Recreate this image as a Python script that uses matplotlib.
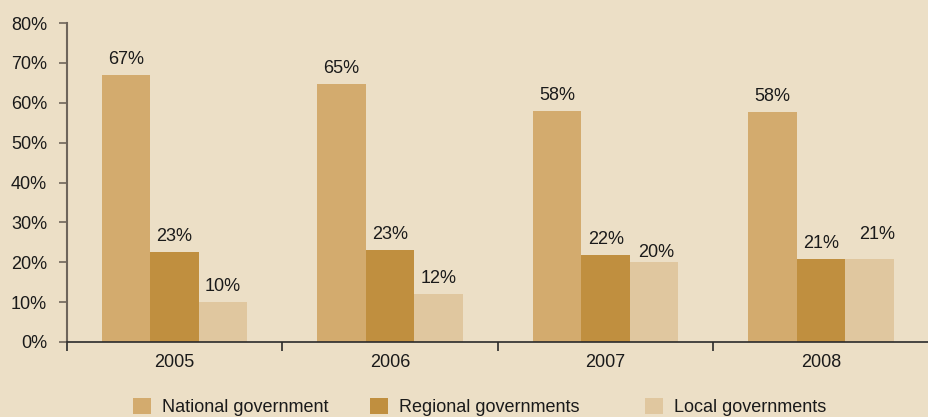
import matplotlib
matplotlib.use("Agg")
import matplotlib.pyplot as plt
import matplotlib.transforms as mtransforms
from matplotlib.patches import Patch
import numpy as np

years = ["2005", "2006", "2007", "2008"]
series = ["National government", "Regional governments", "Local governments"]
national = [66.9, 64.7, 57.9, 57.6]
regional = [22.6, 23.1, 21.8, 20.8]
local = [10.0, 12.0, 20.1, 20.8]

colors = ["#d3ab6e", "#c08f3f", "#e0c79f"]
bg = "#ecdfc6"
text_color = "#1a1a1a"

# per-label nudges in pixels (dx, dy above bar top)
label_nudge = {(2, 2): (2, 5), (2, 3): (7, 20)}

plt.rcParams["font.family"] = ["Liberation Sans", "DejaVu Sans"]
plt.rcParams["font.size"] = 13

fig = plt.figure(figsize=(9.29, 4.17), dpi=100, facecolor=bg)
ax = fig.add_axes([66.7 / 929, 75 / 417, (929 - 66.7) / 929, (394 - 75) / 417])
ax.set_facecolor(bg)

x = np.arange(len(years))
width = 0.225
data = [national, regional, local]
for i, (vals, col) in enumerate(zip(data, colors)):
    pos = x + (i - 1) * width
    ax.bar(pos, vals, width=width, color=col, linewidth=0)
    for j, v in enumerate(vals):
        dx, dy = label_nudge.get((i, j), (0, 11))
        ax.annotate(f"{v:.0f}%", (pos[j], v), xytext=(dx * 0.72, dy * 0.72),
                    textcoords="offset points", ha="center", va="baseline",
                    color=text_color, fontsize=13)

ax.set_xlim(-0.5, -0.5 + (929 - 66.7) / 218.2)
ax.set_ylim(0, 80)
ax.set_yticks(np.arange(0, 81, 10))
ax.set_yticklabels([f"{t}%" for t in range(0, 81, 10)])

# category boundaries carry the ticks, names sit in between
ax.set_xticks(np.arange(-0.5, len(years), 1.0))
ax.set_xticklabels([])
ax.set_xticks(x, minor=True)
ax.set_xticklabels(years, minor=True)
shift = mtransforms.ScaledTranslation(-6 / 100, 0, fig.dpi_scale_trans)
for lbl in ax.get_xticklabels(minor=True):
    lbl.set_transform(lbl.get_transform() + shift)

for s in ["top", "right"]:
    ax.spines[s].set_visible(False)
ax.spines["left"].set_color("#6e655b")
ax.spines["left"].set_linewidth(1.5)
ax.spines["bottom"].set_color("#2a2a2a")
ax.spines["bottom"].set_linewidth(1.2)

ax.tick_params(axis="y", length=5.8, width=1.2, color="#6e655b", pad=8.4,
               labelcolor=text_color, labelsize=13)
ax.tick_params(axis="x", which="major", length=6.5, width=1.2, color="#2a2a2a")
ax.tick_params(axis="x", which="minor", length=0, pad=8.5,
               labelcolor=text_color, labelsize=13)

legend_x = [133, 370, 645]
for name, col, lx in zip(series, colors, legend_x):
    fig.legend(handles=[Patch(facecolor=col, linewidth=0)], labels=[name],
               loc="center left", bbox_to_anchor=(lx / 929, 1 - 407 / 417),
               bbox_transform=fig.transFigure, frameon=False,
               borderpad=0, borderaxespad=0, handlelength=1.0,
               handleheight=1.0, handletextpad=0.6, fontsize=13,
               labelcolor=text_color)

fig.savefig("out.png", dpi=100, facecolor=bg)
